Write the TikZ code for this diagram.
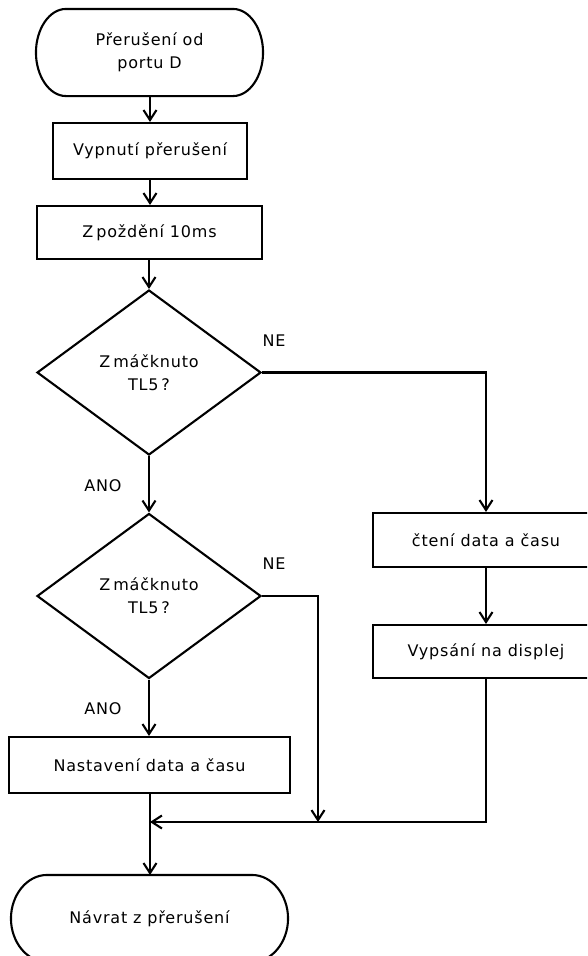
\documentclass[tikz,border=0pt]{standalone}
\usepackage{fontspec}
\setmainfont{DejaVu Sans}[LetterSpace=5]
\usetikzlibrary{arrows.meta,shapes.geometric,calc}

\begin{document}
\begin{tikzpicture}[x=1pt,y=-1pt,
    line width=2.1pt,
    every node/.style={font=\fontsize{16}{23}\selectfont, text=black},
    procbox/.style={draw, rectangle, inner sep=0pt},
    decide/.style={draw, diamond, inner sep=0pt, minimum width=224pt, minimum height=165pt, align=center},
    termbox/.style={inner sep=0pt, align=center},
    flow/.style={-{Straight Barb[length=10pt,width=13pt,line width=2.1pt]}},
    lbl/.style={inner sep=0pt}]

  \useasboundingbox (0,0) rectangle (587,956);
  \clip (0,0) rectangle (587,956);

  % terminal nodes; their stadium outlines are drawn below with elliptic ends
  \node[termbox, minimum width=225pt, minimum height=85pt] (start) at (149.5,52.5) {Přerušení od\\portu D};
  \node[termbox, minimum width=275pt, minimum height=85pt] (stop) at (149.5,918.5) {Návrat z přerušení};

  % start outline: end radius 30 across, 42.5 down
  \draw ($(start.north west)+(30,0)$) -- ($(start.north east)+(-30,0)$)
        .. controls +(16.6,0) and +(0,-23.5) .. (start.east)
        .. controls +(0,23.5) and +(16.6,0) .. ($(start.south east)+(-30,0)$)
        -- ($(start.south west)+(30,0)$)
        .. controls +(-16.6,0) and +(0,23.5) .. (start.west)
        .. controls +(0,-23.5) and +(-16.6,0) .. ($(start.north west)+(30,0)$) -- cycle;

  % stop outline: end radius 36 across, 42.5 down
  \draw ($(stop.north west)+(36,0)$) -- ($(stop.north east)+(-36,0)$)
        .. controls +(19.9,0) and +(0,-23.5) .. (stop.east)
        .. controls +(0,23.5) and +(19.9,0) .. ($(stop.south east)+(-36,0)$)
        -- ($(stop.south west)+(36,0)$)
        .. controls +(-19.9,0) and +(0,23.5) .. (stop.west)
        .. controls +(0,-23.5) and +(-19.9,0) .. ($(stop.north west)+(36,0)$) -- cycle;

  \node[procbox, minimum width=194pt, minimum height=56pt] (off) at (150,151) {Vypnutí přerušení};
  \node[procbox, minimum width=225pt, minimum height=53pt] (delay) at (149.5,232.5) {Z\kern3pt poždění 10ms};

  \node[decide] (q1) at (149,372.5) {Z\kern3pt máčknuto\\TL5\kern3pt?};
  \node[decide] (q2) at (149,596) {Z\kern3pt máčknuto\\TL5\kern3pt?};

  \node[procbox, minimum width=226pt, minimum height=54pt] (read) at (486,540) {čtení data a času};
  \node[procbox, minimum width=226pt, minimum height=53pt] (show) at (486,651.5) {Vypsání na displej};
  \node[procbox, minimum width=281pt, minimum height=56pt] (set) at (149.5,765) {Nastavení data a času};

  % branch labels
  \node[lbl] (ne1) at (274,341) {NE};
  \node[lbl] (ne2) at (274,564) {NE};
  \node[lbl] (ano1) at (103,486) {ANO};
  \node[lbl] (ano2) at (103,709) {ANO};

  % junction points
  \coordinate (merge) at (150,822);
  \coordinate (side) at (318,822);
  \coordinate (bend) at (318,596);

  % main flow
  \draw[flow] (start.south -| off.north) -- (off.north);
  \draw[flow] (off.south) -- (delay.north -| off.south);
  \draw[flow] (delay.south -| q1.north) -- (q1.north);
  \draw[flow] (q1.south) -- (q2.north);
  \draw[flow] (q2.south) -- (set.north -| q2.south);

  % NE branches
  \draw[flow] (q1.east) -| (read.north);
  \draw[flow] (read.south) -- (show.north);
  \draw[flow] (q2.east) -- (bend) -- (side);

  % merge and exit
  \draw[flow] (show.south) |- (merge);
  \draw (set.south -| merge) -- (merge);
  \draw[flow] (merge) -- (stop.north -| merge);
\end{tikzpicture}
\end{document}
